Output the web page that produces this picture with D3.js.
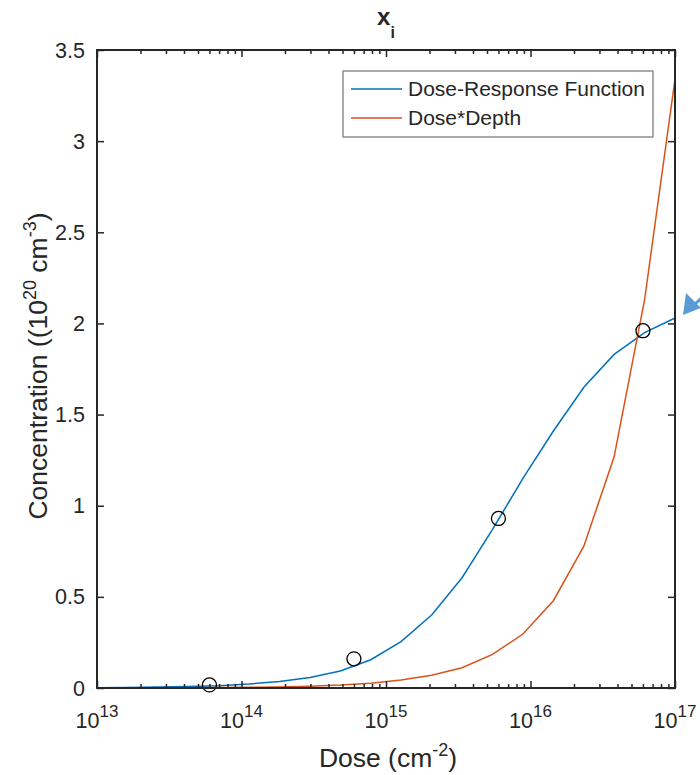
<!DOCTYPE html>
<html>
<head>
<meta charset="utf-8">
<script src="https://cdn.jsdelivr.net/npm/d3@7"></script>
<style>
  body { margin: 0; background: #fff; }
  text { font-family: Arial, "Liberation Sans", Helvetica, sans-serif; fill: #262626; }
</style>
</head>
<body>
<script>
// dose sample points (cm^-2)
var doses = [1e13, 1.62e13, 2.64e13, 4.28e13, 6.95e13, 1.13e14, 1.83e14, 2.98e14, 4.83e14, 7.85e14,
             1.27e15, 2.07e15, 3.36e15, 5.46e15, 8.86e15, 1.44e16, 2.34e16, 3.79e16, 6.16e16, 1e17];
var doseResponse = [0.002, 0.003, 0.005, 0.008, 0.013, 0.022, 0.036, 0.058, 0.093, 0.155,
                    0.255, 0.40, 0.605, 0.87, 1.15, 1.41, 1.65, 1.83, 1.95, 2.03];
var doseDepth = [0.0003, 0.0005, 0.0009, 0.0014, 0.0023, 0.0038, 0.0061, 0.0099, 0.016, 0.026,
                 0.044, 0.070, 0.111, 0.184, 0.296, 0.479, 0.778, 1.268, 2.13, 3.34];
var markDose = [6e13, 6e14, 6e15, 6e16];
var markConc = [0.017, 0.16, 0.93, 1.96];
var xTickExp = [13, 14, 15, 16, 17];
var yTicks = [0, 0.5, 1, 1.5, 2, 2.5, 3, 3.5];
var yTickLabels = ["0", "0.5", "1", "1.5", "2", "2.5", "3", "3.5"];
var seriesNames = ["Dose-Response Function", "Dose*Depth"];
var seriesColors = ["#0072BD", "#D95319"];

var width = 700, height = 775;
var padding = { top: 50, right: 25, bottom: 87, left: 97 };
var axisColor = "#262626";
var tickFont = 21.5, labelFont = 26.5, supFont = 18;

var svg = d3.select("body").append("svg").attr("width", width).attr("height", height);

var x = d3.scaleLog().domain([1e13, 1e17]).range([padding.left, width - padding.right]);
var y = d3.scaleLinear().domain([0, 3.5]).range([height - padding.bottom, padding.top]);

var minorTicks = [];
xTickExp.slice(0, -1).forEach(function(e) {
  for (var k = 2; k <= 9; k++) minorTicks.push(k * Math.pow(10, e));
});
var majorTicks = xTickExp.map(function(e) { return Math.pow(10, e); });

// series
var line = d3.line().x(function(d) { return x(d[0]); }).y(function(d) { return y(d[1]); });
[doseResponse, doseDepth].forEach(function(vals, i) {
  svg.append("path")
    .datum(doses.map(function(d, j) { return [d, vals[j]]; }))
    .attr("fill", "none").attr("stroke", seriesColors[i]).attr("stroke-width", 1.5)
    .attr("d", line);
});

// circle markers
svg.selectAll("circle.mark").data(markDose).enter().append("circle")
  .attr("class", "mark")
  .attr("cx", function(d) { return x(d); })
  .attr("cy", function(d, i) { return y(markConc[i]); })
  .attr("r", 7).attr("fill", "none").attr("stroke", "#000").attr("stroke-width", 1.3);

// axes (ticks inward, box)
function styleAxis(g) {
  g.select(".domain").remove();
  g.selectAll("line").attr("stroke", axisColor).attr("stroke-width", 1.5);
  g.selectAll("text").remove();
}
var yb = height - padding.bottom, yt = padding.top;
svg.append("g").attr("transform", "translate(0," + yb + ")")
  .call(d3.axisBottom(x).tickValues(majorTicks).tickSize(-7)).call(styleAxis);
svg.append("g").attr("transform", "translate(0," + yb + ")")
  .call(d3.axisBottom(x).tickValues(minorTicks).tickSize(-4)).call(styleAxis);
svg.append("g").attr("transform", "translate(0," + yt + ")")
  .call(d3.axisTop(x).tickValues(majorTicks).tickSize(-7)).call(styleAxis);
svg.append("g").attr("transform", "translate(0," + yt + ")")
  .call(d3.axisTop(x).tickValues(minorTicks).tickSize(-4)).call(styleAxis);
svg.append("g").attr("transform", "translate(" + padding.left + ",0)")
  .call(d3.axisLeft(y).tickValues(yTicks).tickSize(-7)).call(styleAxis);
svg.append("g").attr("transform", "translate(" + (width - padding.right) + ",0)")
  .call(d3.axisRight(y).tickValues(yTicks).tickSize(-7)).call(styleAxis);

svg.append("rect")
  .attr("x", padding.left).attr("y", padding.top)
  .attr("width", width - padding.right - padding.left)
  .attr("height", height - padding.bottom - padding.top)
  .attr("fill", "none").attr("stroke", axisColor).attr("stroke-width", 2);

// y tick labels
svg.selectAll("text.ytick").data(yTicks).enter().append("text")
  .attr("class", "ytick")
  .attr("x", padding.left - 12)
  .attr("y", function(d) { return y(d); })
  .attr("dy", "0.35em")
  .attr("text-anchor", "end")
  .attr("font-size", tickFont + "px")
  .text(function(d, i) { return yTickLabels[i]; });

// x tick labels 10^n
var xt = svg.selectAll("text.xtick").data(xTickExp).enter().append("text")
  .attr("class", "xtick")
  .attr("x", function(d) { return x(Math.pow(10, d)); })
  .attr("y", yb + 40)
  .attr("text-anchor", "middle")
  .attr("font-size", tickFont + "px");
xt.append("tspan").text("10");
xt.append("tspan").attr("dy", -11).attr("font-size", "17px").text(function(d) { return d; });

// x label
var xl = svg.append("text")
  .attr("x", (padding.left + width - padding.right) / 2 + 2)
  .attr("y", 767).attr("text-anchor", "middle").attr("font-size", labelFont + "px");
xl.append("tspan").text("Dose (cm");
xl.append("tspan").attr("dy", -11).attr("font-size", supFont + "px").text("-2");
xl.append("tspan").attr("dy", 11).text(")");

// y label
var yl = svg.append("text")
  .attr("transform", "translate(47," + ((padding.top + height - padding.bottom) / 2 - 3) + ") rotate(-90)")
  .attr("text-anchor", "middle").attr("font-size", labelFont + "px");
yl.append("tspan").text("Concentration ((10");
yl.append("tspan").attr("dy", -11).attr("font-size", supFont + "px").text("20");
yl.append("tspan").attr("dy", 11).text(" cm");
yl.append("tspan").attr("dy", -11).attr("font-size", supFont + "px").text("-3");
yl.append("tspan").attr("dy", 11).text(")");

// title
var tt = svg.append("text")
  .attr("x", (padding.left + width - padding.right) / 2)
  .attr("y", 25).attr("text-anchor", "middle")
  .attr("font-size", "24px").attr("font-weight", "bold").attr("fill", "#000");
tt.append("tspan").text("x");
tt.append("tspan").attr("dy", 13).attr("font-size", "16px").text("i");

// legend
var lg = svg.append("g").attr("transform", "translate(343,71)");
lg.append("rect").attr("width", 310).attr("height", 66)
  .attr("fill", "#fff").attr("stroke", "#7f7f7f").attr("stroke-width", 1.3);
seriesNames.forEach(function(name, i) {
  var ry = 18 + i * 29;
  lg.append("line").attr("x1", 8).attr("x2", 59).attr("y1", ry).attr("y2", ry)
    .attr("stroke", seriesColors[i]).attr("stroke-width", 1.5);
  lg.append("text").attr("x", 65).attr("y", ry).attr("dy", "0.35em")
    .attr("font-size", "21px").attr("fill", "#000").text(name);
});

// arrow annotation pointing to the end of the dose-response curve
var tipX = x(1e17) + 8, tipY = y(doseResponse[doseResponse.length - 1]) - 3;
svg.append("line")
  .attr("x1", tipX + 30).attr("y1", tipY - 28).attr("x2", tipX + 10).attr("y2", tipY - 9)
  .attr("stroke", "#5B9BD5").attr("stroke-width", 3);
svg.append("path")
  .attr("d", "M" + tipX + "," + tipY + " L" + (tipX + 3) + "," + (tipY - 22) +
    " L" + (tipX + 18) + "," + (tipY - 7) + " Z")
  .attr("fill", "#5B9BD5");
</script>
</body>
</html>
